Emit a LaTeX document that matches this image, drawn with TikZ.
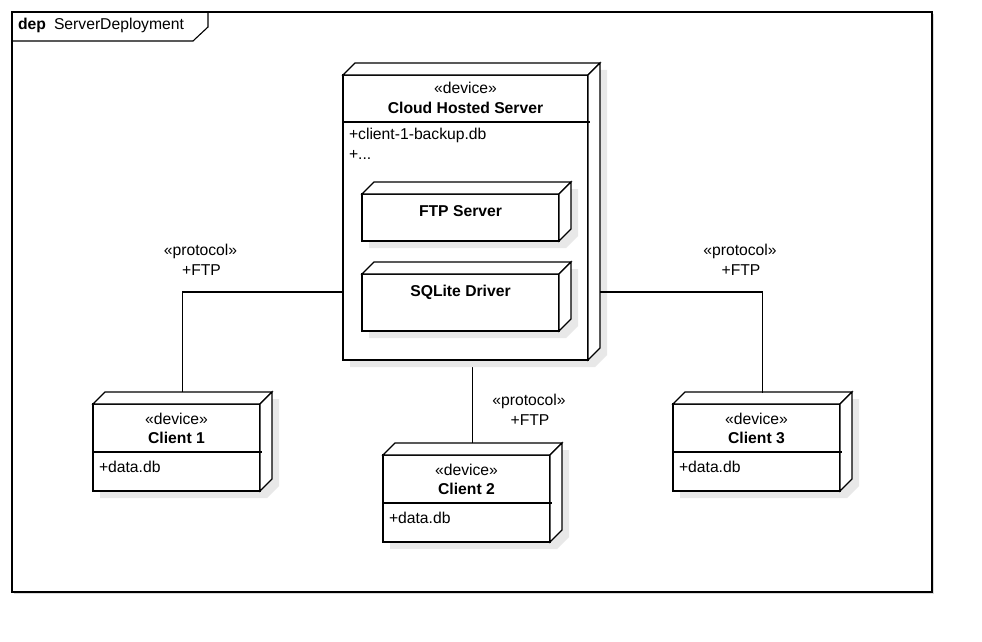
\documentclass[tikz,border=0pt]{standalone}
\usepackage{fontspec}
\setmainfont{Liberation Sans}
\usetikzlibrary{calc}
\pgfdeclarelayer{bg}
\pgfdeclarelayer{edges}
\pgfsetlayers{bg,edges,main}

\tikzset{
  boxline/.style={draw=black, line width=1.1pt, line join=miter},
  front/.style={boxline, fill=white, rectangle, inner sep=0pt, outer sep=0pt},
  shadowc/.style={fill=black!9},
  txt/.style={inner sep=0pt, outer sep=0pt, font=\fontsize{15.7}{19}\selectfont, anchor=base},
  btxt/.style={txt, font=\fontsize{15.7}{19}\selectfont\bfseries},
  ltxt/.style={txt, anchor=base west},
  conn/.style={draw=black, line width=1.1pt},
}

\newcommand\devbox[5]{%
  \fill[shadowc] (#2+7,#3+7) -- (#2+19,#3-5) -- (#4+19,#3-5) -- (#4+19,#5-5) -- (#4+7,#5+7) -- (#2+7,#5+7) -- cycle;
  \node[front, minimum width={#4-#2}, minimum height={#5-#3}] (#1) at ({(#2+#4)/2},{(#3+#5)/2}) {};
  \filldraw[boxline, fill=white] (#1.north west) -- ++(12,-12) -- ($(#1.north east)+(12,-12)$) -- (#1.north east) -- cycle;
  \filldraw[boxline, fill=white] (#1.north east) -- ++(12,-12) -- ($(#1.south east)+(12,-12)$) -- (#1.south east) -- cycle;
}

\begin{document}
\begin{tikzpicture}[x=1pt, y=-1pt]
\useasboundingbox (0,0) rectangle (982,642);

% frame
\begin{pgfonlayer}{bg}
\fill[black!15] (14,14) rectangle (934,594);
\fill[white] (12,12) rectangle (932,592);
\end{pgfonlayer}
\draw[boxline] (12,12) rectangle (932,592);
\draw[boxline] (12,41) -- (193,41) -- (208,27) -- (208,12);
\node[ltxt, font=\fontsize{15.7}{19}\selectfont\bfseries] (deplbl) at (18,30) {dep};
\node[ltxt] (framename) at (54,30) {ServerDeployment};

% server
\devbox{srv}{343}{75}{588}{360}
\draw[boxline] (343,122) -- (590,122);
\node[txt] (srvst) at (465.5,93) {«device»};
\node[btxt] (srvname) at (465.5,113) {Cloud Hosted Server};
\node[ltxt] (srva1) at (349,139) {+client-1-backup.db};
\node[ltxt] (srva2) at (349,159) {+...};

\devbox{ftp}{362}{194}{559}{241}
\node[btxt] (ftpname) at (460.5,216) {FTP Server};
\devbox{sql}{362}{274}{559}{331}
\node[btxt] (sqlname) at (460.5,296) {SQLite Driver};

% clients
\devbox{c1}{93}{404}{260}{491}
\draw[boxline] (93,452) -- (262,452);
\node[txt] (c1st) at (176.5,424) {«device»};
\node[btxt] (c1name) at (176.5,443) {Client 1};
\node[ltxt] (c1a) at (99,472) {+data.db};

\devbox{c2}{383}{455}{550}{542}
\draw[boxline] (383,503) -- (552,503);
\node[txt] (c2st) at (466.5,475) {«device»};
\node[btxt] (c2name) at (466.5,494) {Client 2};
\node[ltxt] (c2a) at (389,523) {+data.db};

\devbox{c3}{673}{404}{840}{491}
\draw[boxline] (673,452) -- (842,452);
\node[txt] (c3st) at (756.5,424) {«device»};
\node[btxt] (c3name) at (756.5,443) {Client 3};
\node[ltxt] (c3a) at (679,472) {+data.db};

% connector endpoints
\coordinate (c1top) at ([xshift=6pt,yshift=11pt]c1.north);
\coordinate (c2top) at ([xshift=6pt,yshift=11pt]c2.north);
\coordinate (c3top) at ([xshift=6pt,yshift=11pt]c3.north);

\begin{pgfonlayer}{edges}
\draw[conn] ([yshift=-74.5pt]srv.west) -| (c1top);
\draw[conn] (c2top |- srv.south) -- (c2top);
\end{pgfonlayer}
\draw[conn] ([xshift=12pt,yshift=-74.5pt]srv.east) -| (c3top);

% connector labels
\node[txt] (p1a) at (200.5,255) {«protocol»};
\node[txt] (p1b) at (201.5,275) {+FTP};
\node[txt] (p3a) at (740,255) {«protocol»};
\node[txt] (p3b) at (741,275) {+FTP};
\node[txt] (p2a) at (529,405) {«protocol»};
\node[txt] (p2b) at (530,425) {+FTP};
\end{tikzpicture}
\end{document}
